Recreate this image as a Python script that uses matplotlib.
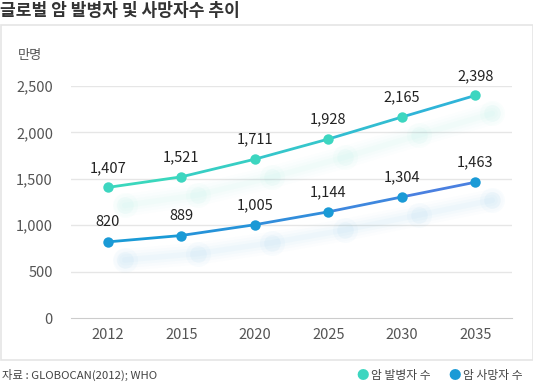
import numpy as np
import matplotlib
matplotlib.use("agg")
from matplotlib import pyplot as plt
from matplotlib import transforms
from matplotlib.collections import LineCollection
from matplotlib.colors import to_rgb
from matplotlib.patches import Rectangle

plt.rcParams["font.family"] = ["Noto Sans CJK KR", "DejaVu Sans"]

years = ["2012", "2015", "2020", "2025", "2030", "2035"]
incidence = [1407, 1521, 1711, 1928, 2165, 2398]
deaths = [820, 889, 1005, 1144, 1304, 1463]
yticks = [0, 500, 1000, 1500, 2000, 2500]

W, H = 533, 383
fig = plt.figure(figsize=(W / 100, H / 100), dpi=100)
ax = fig.add_axes([71 / W, 1 - 318 / H, 441 / W, 232 / H])

x = np.arange(len(years))


def grad_line(ax, xs, ys, c0, c1, lw=2, z=3):
    pts = np.column_stack([xs, ys]).reshape(-1, 1, 2)
    segs = np.concatenate([pts[:-1], pts[1:]], axis=1)
    a, b = np.array(to_rgb(c0)), np.array(to_rgb(c1))
    t = np.linspace(0, 1, len(segs))
    cols = [a + (b - a) * v for v in t]
    ax.add_collection(LineCollection(segs, colors=cols, linewidths=lw, zorder=z))


def shadow(ax, xs, ys, color):
    # soft blurred copy, offset down-right
    tr = transforms.offset_copy(ax.transData, fig=fig, x=17, y=-18, units="dots")
    for lw, a in [(16, 0.012), (12, 0.016), (8, 0.02), (4, 0.025)]:
        ax.plot(xs, ys, color=color, lw=lw, alpha=a, transform=tr,
                solid_capstyle="round", zorder=1)
    for ms, a in [(18, 0.025), (12, 0.035)]:
        ax.plot(xs, ys, "o", color=color, ms=ms, alpha=a, mew=0,
                transform=tr, zorder=1)


teal = "#3dd6c0"
blue = "#1a9ad6"

shadow(ax, x, incidence, teal)
shadow(ax, x, deaths, blue)

grad_line(ax, x, incidence, "#3ad7bd", "#2fb4d8")
grad_line(ax, x, deaths, "#1a9ad6", "#4a80e0")
ax.plot(x, incidence, "o", color=teal, ms=7.5, mew=0, zorder=4)
ax.plot(x, deaths, "o", color=blue, ms=7.5, mew=0, zorder=4)

for xi, v in zip(x, incidence):
    ax.annotate("{:,}".format(v), (xi, v), xytext=(0, 9), textcoords="offset points",
                ha="center", va="bottom", fontsize=10.5, color="#222222")
for xi, v in zip(x, deaths):
    ax.annotate("{:,}".format(v), (xi, v), xytext=(0, 9), textcoords="offset points",
                ha="center", va="bottom", fontsize=10.5, color="#222222")

ax.set_xlim(-0.5, len(years) - 0.5)
ax.set_ylim(0, 2500)
ax.set_xticks(x)
ax.set_xticklabels(years)
ax.set_yticks(yticks)
ax.set_yticklabels(["{:,}".format(v) for v in yticks])
ax.tick_params(length=0, labelsize=10.5, labelcolor="#555555")
ax.tick_params(axis="y", pad=13)
ax.tick_params(axis="x", pad=7)
for v in yticks[1:]:
    ax.axhline(v, color="#e6e6e6", lw=1, zorder=0)
for s in ["top", "right", "left"]:
    ax.spines[s].set_visible(False)
ax.spines["bottom"].set_color("#cccccc")
ax.patch.set_alpha(0)

# frame and texts
fig.patches.append(Rectangle((0.5 / W, 1 - 360 / H), 532 / W, 335 / H,
                             transform=fig.transFigure, fill=False,
                             edgecolor="#e5e5e5", lw=1.2))
fig.text(0, 1 - 11 / H, "글로벌 암 발병자 및 사망자수 추이", fontsize=12.3,
         fontweight="bold", color="#333333", va="center", ha="left")
fig.text(18 / W, 1 - 55 / H, "만명", fontsize=9.5, color="#555555", va="center")
fig.text(2 / W, 1 - 375 / H, "자료 : GLOBOCAN(2012); WHO", fontsize=8.2,
         color="#444444", va="center")
fig.text(363 / W, 1 - 375 / H, "●", fontsize=9, color=teal, va="center", ha="center")
fig.text(371 / W, 1 - 375 / H, "암 발병자 수", fontsize=8.5, color="#444444", va="center")
fig.text(455 / W, 1 - 375 / H, "●", fontsize=9, color=blue, va="center", ha="center")
fig.text(463 / W, 1 - 375 / H, "암 사망자 수", fontsize=8.5, color="#444444", va="center")

fig.savefig("out.png", dpi=100)
